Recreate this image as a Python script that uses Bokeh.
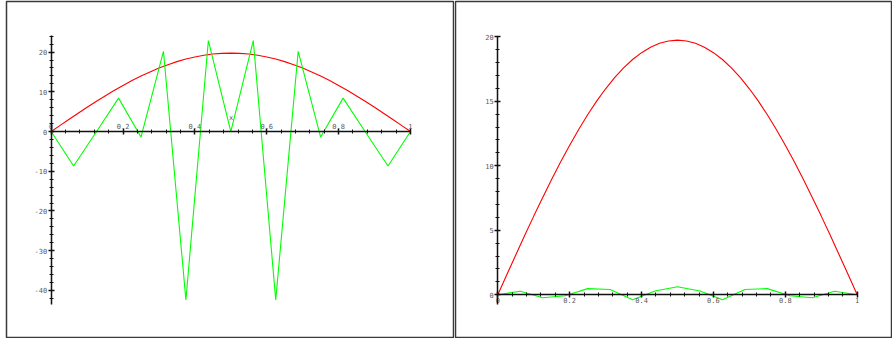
import numpy as np
from bokeh.plotting import figure
from bokeh.layouts import row
from bokeh.models import LinearAxis, FixedTicker, Range1d
from bokeh.embed import file_html
from bokeh.resources import INLINE

# ---- data ----
x_red = [0, 0.025, 0.05, 0.075, 0.1, 0.125, 0.15, 0.175, 0.2, 0.225, 0.25,
         0.275, 0.3, 0.325, 0.35, 0.375, 0.4, 0.425, 0.45, 0.475, 0.5,
         0.525, 0.55, 0.575, 0.6, 0.625, 0.65, 0.675, 0.7, 0.725, 0.75,
         0.775, 0.8, 0.825, 0.85, 0.875, 0.9, 0.925, 0.95, 0.975, 1.0]
y_red = [0, 1.55, 3.09, 4.61, 6.10, 7.55, 8.96, 10.31, 11.60, 12.82, 13.96,
         15.01, 15.97, 16.83, 17.59, 18.24, 18.77, 19.19, 19.50, 19.68, 19.74,
         19.68, 19.50, 19.19, 18.77, 18.24, 17.59, 16.83, 15.97, 15.01, 13.96,
         12.82, 11.60, 10.31, 8.96, 7.55, 6.10, 4.61, 3.09, 1.55, 0]

x_green = [0, 0.0625, 0.125, 0.1875, 0.25, 0.3125, 0.375, 0.4375, 0.5,
           0.5625, 0.625, 0.6875, 0.75, 0.8125, 0.875, 0.9375, 1.0]
y_green_left = [0, -8.7, -0.2, 8.4, -1.4, 20.2, -42.4, 22.9, 0,
                22.9, -42.4, 20.2, -1.4, 8.4, -0.2, -8.7, 0]
y_green_right = [0, 0.28, -0.23, -0.07, 0.48, 0.41, -0.39, 0.29, 0.62,
                 0.29, -0.39, 0.41, 0.48, -0.07, -0.23, 0.28, 0]

x_ticks = [0, 0.2, 0.4, 0.6, 0.8, 1]
x_tick_labels = ["0", "0.2", "0.4", "0.6", "0.8", "1"]
left_y_ticks = [-40, -30, -20, -10, 0, 10, 20]
left_y_tick_labels = ["-40", "-30", "-20", "-10", "0", "10", "20"]
right_y_ticks = [0, 5, 10, 15, 20]
right_y_tick_labels = ["0", "5", "10", "15", "20"]

FONT = "DejaVu Sans Mono"
LBL = "#5a5a5a"
H = 338


def minor(start, stop, step):
    n = int(round((stop - start) / step))
    return [round(start + i * step, 6) for i in range(n + 1)]


def style_axis(ax, standoff):
    ax.axis_line_color = "#111111"
    ax.axis_line_width = 1.5
    ax.major_tick_line_color = "#111111"
    ax.minor_tick_line_color = "#111111"
    ax.major_tick_line_width = 1.5
    ax.minor_tick_line_width = 1
    ax.major_tick_in = 3
    ax.major_tick_out = 3
    ax.minor_tick_in = 2
    ax.minor_tick_out = 2
    ax.major_label_text_font = FONT
    ax.major_label_text_font_size = "7px"
    ax.major_label_text_color = LBL
    ax.major_label_standoff = standoff


def make_fig(width, xr, yr, mb_left, mb_right):
    p = figure(width=width, height=H, x_range=Range1d(*xr), y_range=Range1d(*yr),
               x_axis_location=None, y_axis_location=None,
               toolbar_location=None, output_backend="svg",
               min_border_left=mb_left, min_border_right=mb_right,
               min_border_top=1, min_border_bottom=1,
               background_fill_color="white",
               border_fill_color="white", outline_line_color="#3a3a3a",
               outline_line_width=1.5)
    p.xgrid.grid_line_color = None
    p.ygrid.grid_line_color = None
    return p


# ---- left panel (frame x 6..453, y 1..337) ----
left = make_fig(454, (-0.12433, 1.11976), (-51.86, 32.73), 6, 1)
left.line(x_red, y_red, line_color="#ff0000", line_width=1.1)
left.line(x_green, y_green_left, line_color="#00ff00", line_width=1.1)

lx = LinearAxis(fixed_location=0, bounds=(0, 1),
                ticker=FixedTicker(ticks=x_ticks, minor_ticks=minor(0, 1, 0.04)),
                major_label_overrides=dict(zip(x_ticks, x_tick_labels)),
                axis_label="x")
style_axis(lx, 0)
lx.axis_label_text_font = FONT
lx.axis_label_text_font_size = "7px"
lx.axis_label_text_font_style = "normal"
lx.axis_label_text_color = LBL
lx.axis_label_standoff = -2
left.add_layout(lx, "above")

ly = LinearAxis(fixed_location=0, bounds=(-43.6, 24.2),
                ticker=FixedTicker(ticks=left_y_ticks, minor_ticks=minor(-42, 24, 2)),
                major_label_overrides=dict(zip(left_y_ticks, left_y_tick_labels)))
style_axis(ly, 1)
left.add_layout(ly, "left")

# ---- right panel (frame x 455..892, y 1..337) ----
right = make_fig(438, (-0.1177, 1.0982), (-3.31, 22.736), 1, 0)
right.line(x_red, y_red, line_color="#ff0000", line_width=1.1)
right.line(x_green, y_green_right, line_color="#00ff00", line_width=1.1)

rx = LinearAxis(fixed_location=0, bounds=(0, 1),
                ticker=FixedTicker(ticks=x_ticks, minor_ticks=minor(0, 1, 0.04)),
                major_label_overrides=dict(zip(x_ticks, x_tick_labels)))
style_axis(rx, -1)
right.add_layout(rx, "below")

ry = LinearAxis(fixed_location=0, bounds=(-0.75, 20),
                ticker=FixedTicker(ticks=right_y_ticks, minor_ticks=minor(0, 20, 1)),
                major_label_overrides=dict(zip(right_y_ticks, right_y_tick_labels)))
style_axis(ry, 1)
right.add_layout(ry, "left")

layout = row(left, right)
open("out.html", "w").write(file_html(layout, INLINE))
